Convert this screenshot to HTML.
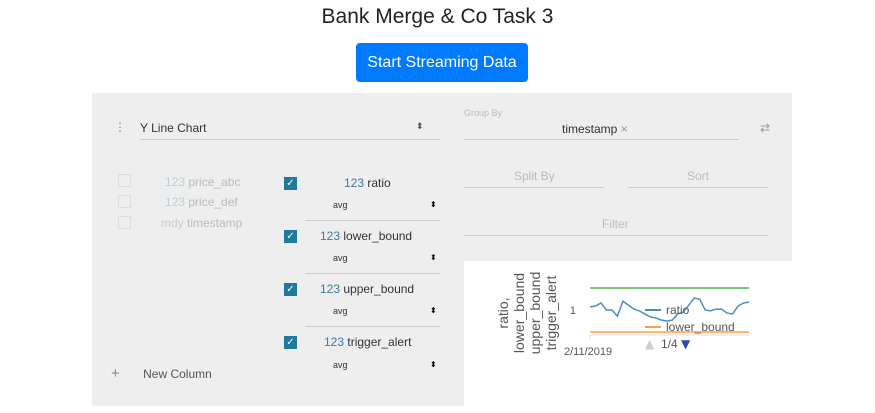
<!DOCTYPE html>
<html><head><meta charset="utf-8"><style>
body{margin:0;width:875px;height:413px;background:#fff;font-family:"Liberation Sans",sans-serif;position:relative;overflow:hidden}
.a{position:absolute}
.t{font-size:12px;color:#333}
.cb{position:absolute;width:11px;height:11px;border:1px solid #ddd;background:#eee}
.cbc{position:absolute;width:13px;height:13px;background:#1f7a9e;color:#fff;font-size:10px;line-height:13px;text-align:center}
.ln{position:absolute;height:1px;background:#ccc}
</style></head><body>
<div class="a" style="left:0;width:875px;top:5px;text-align:center;font-size:21px;color:#222">Bank Merge &amp; Co Task 3</div>
<div class="a" style="left:356px;top:43px;width:172px;height:39px;background:#007bff;border-radius:4px;color:#fff;font-size:16px;line-height:39px;text-align:center">Start Streaming Data</div>
<div class="a" style="left:92px;top:93px;width:700px;height:313px;background:#eee"></div>
<div class="a" style="left:464px;top:261px;width:328px;height:145px;background:#fff"></div>
<div class="a" style="left:114px;top:120px;color:#888;font-size:12px">⋮</div>
<div class="a t" style="left:140px;top:121px">Y Line Chart</div>
<div class="a" style="left:416px;top:121px;font-size:9px;color:#555">⬍</div>
<div class="ln" style="left:140px;top:139px;width:300px"></div>
<div class="a" style="left:464px;top:108px;font-size:9px;color:#bbb">Group By</div>
<div class="a t" style="left:562px;top:122px">timestamp <span style="color:#6aa0c8">×</span></div>
<div class="ln" style="left:464px;top:139px;width:275px"></div>
<div class="a" style="left:760px;top:121px;color:#999;font-size:12px">⇄</div>
<div class="a" style="left:514px;top:169px;font-size:12px;color:#bbb">Split By</div>
<div class="ln" style="left:464px;top:187px;width:140px"></div>
<div class="a" style="left:687px;top:169px;font-size:12px;color:#bbb">Sort</div>
<div class="ln" style="left:628px;top:187px;width:140px"></div>
<div class="a" style="left:602px;top:217px;font-size:12px;color:#bbb">Filter</div>
<div class="ln" style="left:464px;top:235px;width:304px"></div>

<div class="cb" style="left:118px;top:174px"></div>
<div class="a" style="left:165px;top:175px;font-size:12px;color:#bbb"><span style="color:#b8d0dc">123</span> price_abc</div>
<div class="cb" style="left:118px;top:195px"></div>
<div class="a" style="left:165px;top:195px;font-size:12px;color:#bbb"><span style="color:#b8d0dc">123</span> price_def</div>
<div class="cb" style="left:118px;top:216px"></div>
<div class="a" style="left:161px;top:216px;font-size:12px;color:#bbb"><span style="color:#ccc">mdy</span> timestamp</div>

<div class="cbc" style="left:284px;top:177px">✓</div>
<div class="a t" style="left:344px;top:176px"><span style="color:#3a7ca5">123</span> ratio</div>
<div class="a" style="left:333px;top:200px;font-size:9px;color:#333">avg</div><div class="a" style="left:430px;top:200px;font-size:8px">⬍</div>
<div class="ln" style="left:305px;top:220px;width:135px"></div>
<div class="cbc" style="left:284px;top:230px">✓</div>
<div class="a t" style="left:320px;top:229px"><span style="color:#3a7ca5">123</span> lower_bound</div>
<div class="a" style="left:333px;top:253px;font-size:9px;color:#333">avg</div><div class="a" style="left:430px;top:253px;font-size:8px">⬍</div>
<div class="ln" style="left:305px;top:273px;width:135px"></div>
<div class="cbc" style="left:284px;top:283px">✓</div>
<div class="a t" style="left:320px;top:282px"><span style="color:#3a7ca5">123</span> upper_bound</div>
<div class="a" style="left:333px;top:306px;font-size:9px;color:#333">avg</div><div class="a" style="left:430px;top:306px;font-size:8px">⬍</div>
<div class="ln" style="left:305px;top:326px;width:135px"></div>
<div class="cbc" style="left:284px;top:336px">✓</div>
<div class="a t" style="left:324px;top:335px"><span style="color:#3a7ca5">123</span> trigger_alert</div>
<div class="a" style="left:333px;top:360px;font-size:9px;color:#333">avg</div><div class="a" style="left:430px;top:360px;font-size:8px">⬍</div>
<div class="a" style="left:111px;top:365px;font-size:12px;color:#555"><span style="font-size:15px;color:#888">+</span>&nbsp;&nbsp;&nbsp;&nbsp;&nbsp;&nbsp; New Column</div>

<svg class="a" style="left:0;top:0" width="875" height="413" id="chart">
<defs><clipPath id="yc"><rect x="464" y="271" width="120" height="140"/></clipPath></defs>
<g font-family="Liberation Sans,sans-serif" fill="#555" clip-path="url(#yc)">
<text transform="translate(508,313) rotate(-90)" text-anchor="middle" font-size="14"><tspan x="0" dy="0">ratio,</tspan><tspan x="0" dy="16">lower_bound</tspan><tspan x="0" dy="16">upper_bound</tspan><tspan x="0" dy="16">trigger_alert</tspan></text>
</g>
<line x1="590" y1="335" x2="749" y2="335" stroke="#ddd"/>
<line x1="590" y1="335" x2="590" y2="339" stroke="#ddd"/>
</svg>
<script>
var ratio=[1.007,1.009,1.016,1.0,1.0,0.986,1.02,1.011,1.002,0.998,0.991,0.984,0.982,0.977,0.975,0.977,0.991,0.995,1.011,1.027,1.025,1.0,0.998,1.002,1.002,0.993,0.991,1.009,1.016,1.018];
var upperBound=[1.05];
var lowerBound=[0.95];
var yTicks=[1];
var xTickLabels=["2/11/2019"];
var svg=document.getElementById('chart'),NS='http://www.w3.org/2000/svg';
function xs(i){return 590+i*(159/(ratio.length-1));}
function ys(v){return 310-(v-1)*440;}
function mk(t,a){var e=document.createElementNS(NS,t);for(var k in a)e.setAttribute(k,a[k]);svg.appendChild(e);return e;}
var e=mk('line',{x1:590,x2:749,y1:ys(upperBound[0]),y2:ys(upperBound[0]),stroke:'#4daf4a','stroke-width':1.5});


e=mk('line',{x1:590,x2:749,y1:ys(lowerBound[0]),y2:ys(lowerBound[0]),stroke:'#ff9d42','stroke-width':1.5});


e=mk('polyline',{points:ratio.map(function(v,i){return xs(i)+','+ys(v)}).join(' '),fill:'none',stroke:'#4a8fc4','stroke-width':1.5});


yTicks.forEach(function(t){var x=mk('text',{x:576,y:ys(t)+4,'font-size':11,fill:'#555','text-anchor':'end','font-family':'Liberation Sans,sans-serif'});x.textContent=t;

});
xTickLabels.forEach(function(t){var x=mk('text',{x:564,y:355,'font-size':11,fill:'#555','font-family':'Liberation Sans,sans-serif'});x.textContent=t;

});
var lg=[['ratio','#4a8fc4',314],['lower_bound','#ff9d42',331]];
lg.forEach(function(l){var g=mk('line',{x1:645,x2:661,y1:l[2]-4,y2:l[2]-4,stroke:l[1],'stroke-width':2});


var x=mk('text',{x:666,y:l[2],'font-size':12,fill:'#555','font-family':'Liberation Sans,sans-serif'});x.textContent=l[0];

});
var p=mk('text',{x:645,y:348,'font-size':12,fill:'#ccc','font-family':'DejaVu Sans,sans-serif'});p.textContent='▲';


p=mk('text',{x:661,y:348,'font-size':12,fill:'#555','font-family':'Liberation Sans,sans-serif'});p.textContent='1/4';


p=mk('text',{x:681,y:348,'font-size':12,fill:'#2a4fa8','font-family':'DejaVu Sans,sans-serif'});p.textContent='▼';


</script>
</body></html>
